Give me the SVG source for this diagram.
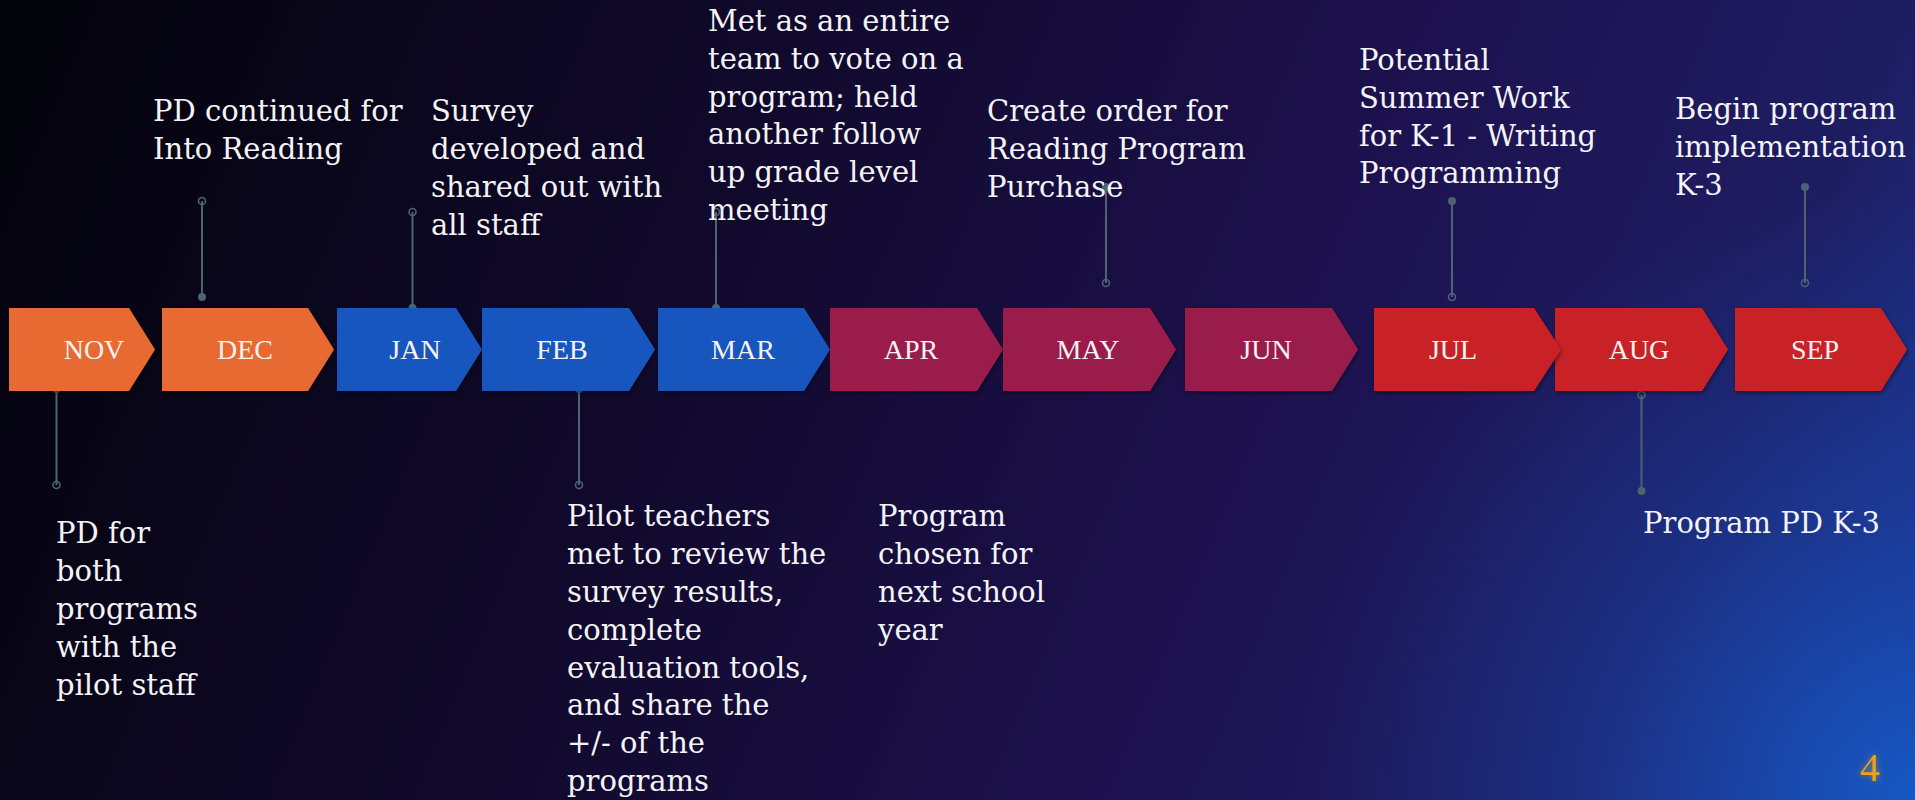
<svg xmlns="http://www.w3.org/2000/svg" width="1915" height="800" viewBox="0 0 1915 800">
<style>
.mo{font-family:"Liberation Serif","Times New Roman",serif;font-size:28px;fill:#f6f2f2;text-anchor:middle}
.an{font-family:"DejaVu Serif","Liberation Serif",serif;font-size:29px;fill:#f4f4f6}
.or{fill:#E66A31}
.bl{fill:#1757BE}
.mr{fill:#991E4B}
.rd{fill:#C92127}
.ln{stroke:#4d6374;stroke-width:2;fill:none}
.fd{fill:#4d6374}
.od{fill:none;stroke:#4d6374;stroke-width:1.6}
.pg{font-family:"Liberation Serif","Times New Roman",serif;font-size:40px;fill:#E8A21A}
</style>
<defs>
<linearGradient id="bg" x1="0" y1="0" x2="1915" y2="800" gradientUnits="userSpaceOnUse">
<stop offset="0" stop-color="#03030a"/>
<stop offset="0.4" stop-color="#120a30"/>
<stop offset="0.65" stop-color="#1d1250"/>
<stop offset="0.85" stop-color="#1e1d62"/>
<stop offset="1" stop-color="#1c3590"/>
</linearGradient>
<radialGradient id="glow" cx="1915" cy="800" r="620" gradientUnits="userSpaceOnUse">
<stop offset="0" stop-color="#1658c4" stop-opacity="1"/>
<stop offset="0.5" stop-color="#1a44a8" stop-opacity="0.5"/>
<stop offset="1" stop-color="#1a3d9a" stop-opacity="0"/>
</radialGradient>
<filter id="sh" x="-10%" y="-10%" width="120%" height="130%">
<feDropShadow dx="1" dy="2" stdDeviation="2" flood-color="#000000" flood-opacity="0.45"/>
</filter>
<filter id="gl" x="-50%" y="-50%" width="200%" height="200%">
<feDropShadow dx="0" dy="0" stdDeviation="3" flood-color="#E8A21A" flood-opacity="0.6"/>
</filter>
</defs>
<rect x="0" y="0" width="1915" height="800" fill="url(#bg)"/>
<rect x="0" y="0" width="1915" height="800" fill="url(#glow)"/>

<g id="connectors">
<line class="ln" x1="56.5" y1="389" x2="56.5" y2="485"/><circle class="fd" cx="56.5" cy="389" r="4"/><circle class="od" cx="56.5" cy="485" r="3.5"/>
<line class="ln" x1="202" y1="201" x2="202" y2="297"/><circle class="od" cx="202" cy="201" r="3.5"/><circle class="fd" cx="202" cy="297" r="4"/>
<line class="ln" x1="412.5" y1="212" x2="412.5" y2="308"/><circle class="od" cx="412.5" cy="212" r="3.5"/><circle class="fd" cx="412.5" cy="308" r="4"/>
<line class="ln" x1="579" y1="389" x2="579" y2="485"/><circle class="fd" cx="579" cy="389" r="4"/><circle class="od" cx="579" cy="485" r="3.5"/>
<line class="ln" x1="716" y1="212" x2="716" y2="308"/><circle class="od" cx="716" cy="212" r="3.5"/><circle class="fd" cx="716" cy="308" r="4"/>
<line class="ln" x1="1106" y1="187" x2="1106" y2="283"/><circle class="fd" cx="1106" cy="187" r="4"/><circle class="od" cx="1106" cy="283" r="3.5"/>
<line class="ln" x1="1452" y1="201" x2="1452" y2="297"/><circle class="fd" cx="1452" cy="201" r="4"/><circle class="od" cx="1452" cy="297" r="3.5"/>
<line class="ln" x1="1641.5" y1="395" x2="1641.5" y2="491"/><circle class="od" cx="1641.5" cy="395" r="3.5"/><circle class="fd" cx="1641.5" cy="491" r="4"/>
<line class="ln" x1="1805" y1="187" x2="1805" y2="283"/><circle class="fd" cx="1805" cy="187" r="4"/><circle class="od" cx="1805" cy="283" r="3.5"/>
</g>

<g id="nov"><polygon class="or" filter="url(#sh)" points="9,308 129,308 155,349.5 129,391 9,391"/><text class="mo" x="94" y="359">NOV</text></g>
<g id="dec"><polygon class="or" filter="url(#sh)" points="162,308 308,308 334,349.5 308,391 162,391"/><text class="mo" x="245" y="359">DEC</text></g>
<g id="jan"><polygon class="bl" filter="url(#sh)" points="337,308 456,308 482,349.5 456,391 337,391"/><text class="mo" x="415" y="359">JAN</text></g>
<g id="feb"><polygon class="bl" filter="url(#sh)" points="482,308 629,308 655,349.5 629,391 482,391"/><text class="mo" x="562" y="359">FEB</text></g>
<g id="mar"><polygon class="bl" filter="url(#sh)" points="658,308 804,308 830,349.5 804,391 658,391"/><text class="mo" x="743" y="359">MAR</text></g>
<g id="apr"><polygon class="mr" filter="url(#sh)" points="830,308 977,308 1003,349.5 977,391 830,391"/><text class="mo" x="911" y="359">APR</text></g>
<g id="may"><polygon class="mr" filter="url(#sh)" points="1003,308 1150,308 1176,349.5 1150,391 1003,391"/><text class="mo" x="1088" y="359">MAY</text></g>
<g id="jun"><polygon class="mr" filter="url(#sh)" points="1185,308 1332,308 1358,349.5 1332,391 1185,391"/><text class="mo" x="1266" y="359">JUN</text></g>
<g id="aug"><polygon class="rd" filter="url(#sh)" points="1555,308 1702,308 1728,349.5 1702,391 1555,391"/><text class="mo" x="1639" y="359">AUG</text></g>
<g id="jul"><polygon class="rd" filter="url(#sh)" points="1374,308 1534,308 1561,349.5 1534,391 1374,391"/><text class="mo" x="1453" y="359">JUL</text></g>
<g id="sep"><polygon class="rd" filter="url(#sh)" points="1735,308 1881,308 1907,349.5 1881,391 1735,391"/><text class="mo" x="1815" y="359">SEP</text></g>

<g id="note-dec"><text class="an" x="153" y="121">PD continued for</text><text class="an" x="153" y="159">Into Reading</text></g>
<g id="note-jan"><text class="an" x="431" y="121">Survey</text><text class="an" x="431" y="159">developed and</text><text class="an" x="431" y="197">shared out with</text><text class="an" x="431" y="235">all staff</text></g>
<g id="note-mar"><text class="an" x="708" y="31">Met as an entire</text><text class="an" x="708" y="69">team to vote on a</text><text class="an" x="708" y="107">program; held</text><text class="an" x="708" y="144">another follow</text><text class="an" x="708" y="182">up grade level</text><text class="an" x="708" y="220">meeting</text></g>
<g id="note-may"><text class="an" x="987" y="121">Create order for</text><text class="an" x="987" y="159">Reading Program</text><text class="an" x="987" y="197">Purchase</text></g>
<g id="note-jul"><text class="an" x="1359" y="70">Potential</text><text class="an" x="1359" y="108">Summer Work</text><text class="an" x="1359" y="146">for K-1 - Writing</text><text class="an" x="1359" y="183">Programming</text></g>
<g id="note-sep"><text class="an" x="1675" y="119">Begin program</text><text class="an" x="1675" y="157">implementation</text><text class="an" x="1675" y="195">K-3</text></g>
<g id="note-nov"><text class="an" x="56" y="543">PD for</text><text class="an" x="56" y="581">both</text><text class="an" x="56" y="619">programs</text><text class="an" x="56" y="657">with the</text><text class="an" x="56" y="695">pilot staff</text></g>
<g id="note-feb"><text class="an" x="567" y="526">Pilot teachers</text><text class="an" x="567" y="564">met to review the</text><text class="an" x="567" y="602">survey results,</text><text class="an" x="567" y="640">complete</text><text class="an" x="567" y="678">evaluation tools,</text><text class="an" x="567" y="715">and share the</text><text class="an" x="567" y="753">+/- of the</text><text class="an" x="567" y="791">programs</text></g>
<g id="note-apr"><text class="an" x="878" y="526">Program</text><text class="an" x="878" y="564">chosen for</text><text class="an" x="878" y="602">next school</text><text class="an" x="878" y="640">year</text></g>
<g id="note-aug"><text class="an" x="1643" y="533">Program PD K-3</text></g>

<text class="pg" x="1860" y="781" filter="url(#gl)">4</text>
</svg>
